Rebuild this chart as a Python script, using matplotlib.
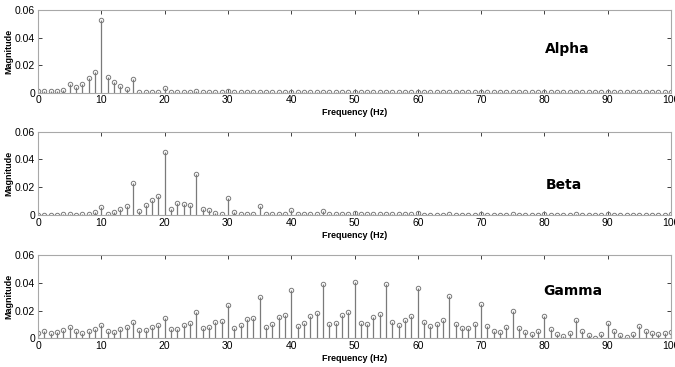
import matplotlib

matplotlib.use("Agg")
import matplotlib.pyplot as plt
import numpy as np

freqs = list(range(0, 101))

alpha_vals = [
    0.0010, 0.0015, 0.0012, 0.0012, 0.0020, 0.0060, 0.0043, 0.0060, 0.0110, 0.0150,
    0.0530, 0.0115, 0.0075, 0.0045, 0.0030, 0.0103, 0.0005, 0.0005, 0.0005, 0.0005,
    0.0033, 0.0003, 0.0003, 0.0003, 0.0003, 0.0013, 0.0003, 0.0003, 0.0003, 0.0003,
    0.0013, 0.0003, 0.0003, 0.0003, 0.0003, 0.0003, 0.0003, 0.0003, 0.0003, 0.0003,
    0.0006, 0.0003, 0.0003, 0.0003, 0.0003, 0.0003, 0.0003, 0.0003, 0.0003, 0.0003,
    0.0004, 0.0003, 0.0003, 0.0003, 0.0003, 0.0003, 0.0003, 0.0003, 0.0003, 0.0003,
    0.0004, 0.0003, 0.0003, 0.0003, 0.0003, 0.0003, 0.0003, 0.0003, 0.0003, 0.0003,
    0.0004, 0.0003, 0.0003, 0.0003, 0.0003, 0.0003, 0.0003, 0.0003, 0.0003, 0.0003,
    0.0004, 0.0003, 0.0003, 0.0003, 0.0003, 0.0003, 0.0003, 0.0003, 0.0003, 0.0003,
    0.0004, 0.0003, 0.0003, 0.0003, 0.0003, 0.0003, 0.0003, 0.0003, 0.0003, 0.0003,
    0.0004,
]

beta_vals = [
    0.0003, 0.0003, 0.0003, 0.0003, 0.0004, 0.0008, 0.0003, 0.0005, 0.0010, 0.0024,
    0.0060, 0.0005, 0.0024, 0.0043, 0.0067, 0.0228, 0.0026, 0.0072, 0.0108, 0.0137,
    0.0451, 0.0046, 0.0089, 0.0082, 0.0070, 0.0295, 0.0046, 0.0038, 0.0017, 0.0010,
    0.0125, 0.0022, 0.0010, 0.0007, 0.0010, 0.0067, 0.0007, 0.0007, 0.0007, 0.0007,
    0.0036, 0.0005, 0.0005, 0.0005, 0.0005, 0.0026, 0.0005, 0.0005, 0.0004, 0.0004,
    0.0015, 0.0004, 0.0004, 0.0004, 0.0004, 0.0010, 0.0004, 0.0004, 0.0004, 0.0004,
    0.0012, 0.0003, 0.0003, 0.0003, 0.0003, 0.0005, 0.0003, 0.0003, 0.0003, 0.0003,
    0.0006, 0.0003, 0.0003, 0.0003, 0.0003, 0.0004, 0.0003, 0.0003, 0.0003, 0.0003,
    0.0005, 0.0003, 0.0003, 0.0003, 0.0003, 0.0004, 0.0003, 0.0003, 0.0003, 0.0003,
    0.0005, 0.0003, 0.0003, 0.0003, 0.0003, 0.0003, 0.0003, 0.0003, 0.0003, 0.0003,
    0.0004,
]

gamma_vals = [
    0.0041, 0.0053, 0.0038, 0.0046, 0.0060, 0.0084, 0.0053, 0.0041, 0.0053, 0.0070,
    0.0094, 0.0055, 0.0048, 0.0067, 0.0084, 0.0118, 0.0060, 0.0058, 0.0082, 0.0096,
    0.0149, 0.0065, 0.0070, 0.0098, 0.0110, 0.0192, 0.0072, 0.0084, 0.0120, 0.0122,
    0.0240, 0.0074, 0.0098, 0.0137, 0.0146, 0.0295, 0.0082, 0.0106, 0.0156, 0.0166,
    0.0350, 0.0091, 0.0113, 0.0163, 0.0180, 0.0391, 0.0101, 0.0112, 0.0166, 0.0190,
    0.0408, 0.0108, 0.0106, 0.0154, 0.0173, 0.0394, 0.0115, 0.0098, 0.0130, 0.0158,
    0.0360, 0.0118, 0.0086, 0.0100, 0.0130, 0.0305, 0.0106, 0.0072, 0.0077, 0.0100,
    0.0250, 0.0091, 0.0055, 0.0048, 0.0080, 0.0200, 0.0077, 0.0043, 0.0029, 0.0055,
    0.0158, 0.0065, 0.0029, 0.0017, 0.0041, 0.0130, 0.0055, 0.0026, 0.0005, 0.0034,
    0.0108, 0.0053, 0.0026, 0.0012, 0.0034, 0.0089, 0.0055, 0.0041, 0.0031, 0.0041,
    0.0043,
]

band_names = ["Alpha", "Beta", "Gamma"]
label_pos = [(83.6, 0.0317), (83.0, 0.0214), (84.5, 0.0343)]

STEM_COLOR = "#7a7a7a"
SPINE_COLOR = "#a8a8a8"

plt.rcParams["font.family"] = ["Liberation Sans", "DejaVu Sans"]

fig = plt.figure(figsize=(6.75, 3.67), dpi=100)
W, H = 675, 367
# (top, bottom) in pixels for each panel
panel_px = [(10, 92.7), (131.7, 215), (255, 338.3)]
left_px, right_px = 38, 671

for (top, bot), vals, name, (tx, ty) in zip(panel_px, [alpha_vals, beta_vals, gamma_vals], band_names, label_pos):
    ax = fig.add_axes([left_px / W, 1 - bot / H, (right_px - left_px) / W, (bot - top) / H])
    markers, stems, base = ax.stem(freqs, vals, basefmt=" ")
    plt.setp(stems, color=STEM_COLOR, linewidth=0.9)
    plt.setp(markers, color=STEM_COLOR, marker="o", markersize=3.2,
             markerfacecolor="none", markeredgewidth=0.7)
    ax.set_xlim(0, 100)
    ax.set_ylim(0, 0.06)
    ax.set_xticks(np.arange(0, 101, 10))
    ax.set_yticks([0, 0.02, 0.04, 0.06])
    ax.set_yticklabels(["0", "0.02", "0.04", "0.06"])
    ax.tick_params(direction="in", top=True, right=True, length=3, width=0.7,
                   color="#404040", labelsize=7.5, pad=2)
    for sp in ax.spines.values():
        sp.set_color(SPINE_COLOR)
        sp.set_linewidth(0.8)
    ax.set_xlabel("Frequency (Hz)", fontsize=6.5, fontweight="bold")
    ax.xaxis.set_label_coords(0.5, -0.19)
    ax.set_ylabel("Magnitude", fontsize=6.5, fontweight="bold", labelpad=1)
    ax.text(tx, ty, name, fontsize=10, fontweight="bold", family="DejaVu Sans",
            ha="center", va="center")

fig.savefig("out.png", dpi=100)
